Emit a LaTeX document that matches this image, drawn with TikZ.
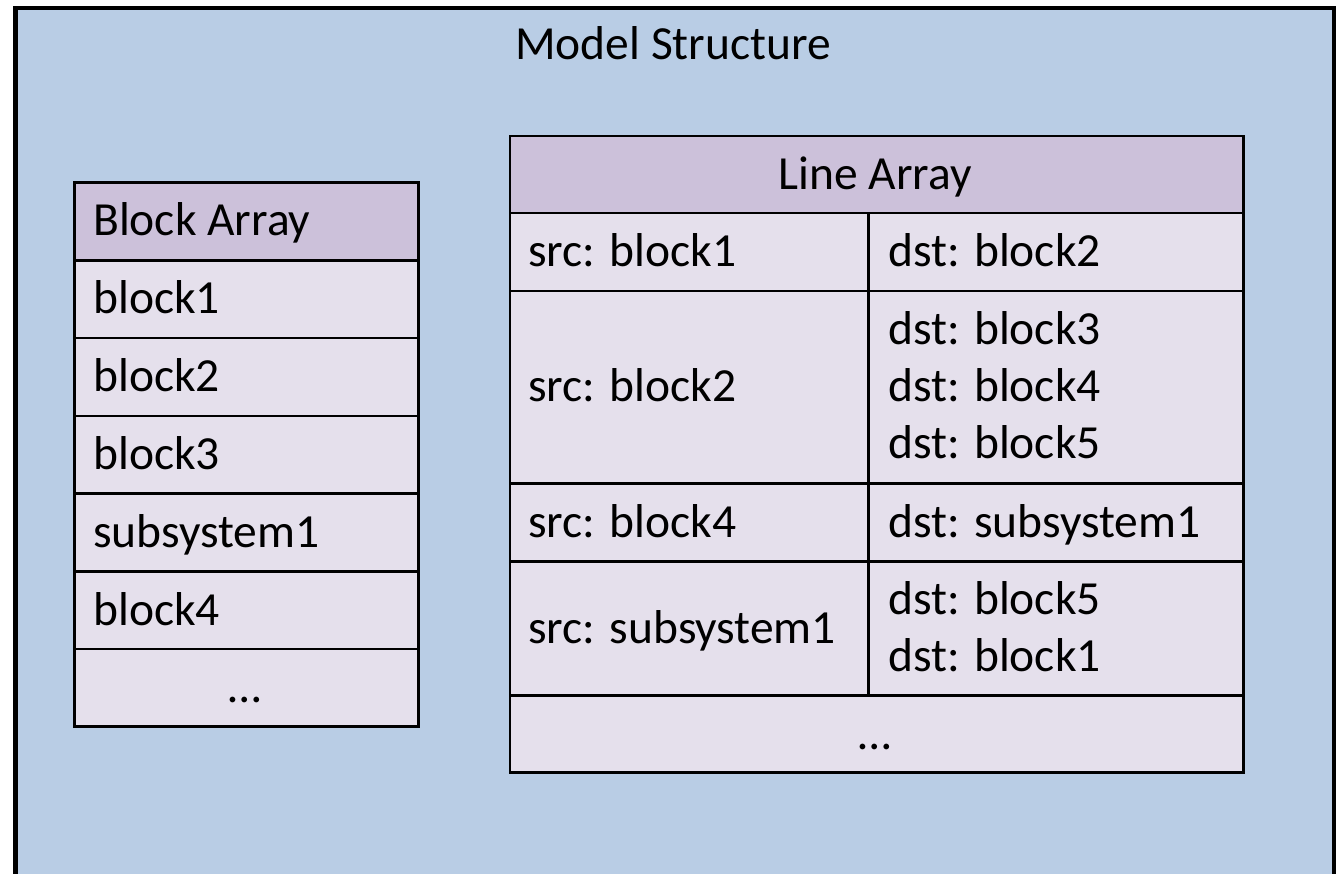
\documentclass[tikz,border=0pt]{standalone}
\usepackage{fontspec}
\setmainfont{Carlito}
\definecolor{outerblue}{HTML}{B9CDE5}
\definecolor{hdrpurple}{HTML}{CCC1DA}
\definecolor{cellpurple}{HTML}{E5E0EC}
\tikzset{
  frame/.style={draw=black, line width=4.5pt, fill=outerblue, inner sep=0pt, anchor=north west},
  hdr/.style={draw=black, line width=2.5pt, fill=hdrpurple, inner sep=0pt, anchor=north west},
  cell/.style={draw=black, line width=2.5pt, fill=cellpurple, inner sep=0pt, anchor=north west},
  lbl/.style={anchor=base west, inner sep=0pt, font=\fontsize{47.5}{57}\selectfont},
  clbl/.style={anchor=base, inner sep=0pt, font=\fontsize{47.5}{57}\selectfont}
}
\begin{document}
\begin{tikzpicture}[x=1pt,y=-1pt]
\clip (0,0) rectangle (1339,874);
\useasboundingbox (0,0) rectangle (1339,874);

% outer container
\node[frame, minimum width=1318.5pt, minimum height=872pt] (frame) at (13,6) {};
\node[clbl] (title) at (673,59.5) {Model Structure};

% block array (left table)
\node[hdr,  minimum width=344pt, minimum height=77.7pt] (bh) at (73,181.5) {};
\node[cell, minimum width=344pt, minimum height=77.7pt] (b1) at (73,259.2) {};
\node[cell, minimum width=344pt, minimum height=77.7pt] (b2) at (73,336.9) {};
\node[cell, minimum width=344pt, minimum height=77.7pt] (b3) at (73,414.6) {};
\node[cell, minimum width=344pt, minimum height=77.7pt] (b4) at (73,492.3) {};
\node[cell, minimum width=344pt, minimum height=77.7pt] (b5) at (73,570.0) {};
\node[cell, minimum width=344pt, minimum height=77.7pt] (b6) at (73,647.7) {};
\node[lbl] (bht) at (93,236) {Block Array};
\node[lbl] (b1t) at (93,314) {block1};
\node[lbl] (b2t) at (93,391.5) {block2};
\node[lbl] (b3t) at (93,469) {block3};
\node[lbl] (b4t) at (93,547) {subsystem1};
\node[lbl] (b5t) at (93,625) {block4};
\node[clbl] (b6t) at (245,702) {…};

% line array (right table)
\node[hdr,  minimum width=733.5pt, minimum height=77pt] (lh) at (508.5,135) {};
\node[cell, minimum width=358.5pt, minimum height=78pt]  (s1) at (508.5,212) {};
\node[cell, minimum width=375pt,   minimum height=78pt]  (d1) at (867,212) {};
\node[cell, minimum width=358.5pt, minimum height=192pt] (s2) at (508.5,290) {};
\node[cell, minimum width=375pt,   minimum height=192pt] (d2) at (867,290) {};
\node[cell, minimum width=358.5pt, minimum height=78pt]  (s3) at (508.5,482) {};
\node[cell, minimum width=375pt,   minimum height=78pt]  (d3) at (867,482) {};
\node[cell, minimum width=358.5pt, minimum height=134pt] (s4) at (508.5,560) {};
\node[cell, minimum width=375pt,   minimum height=134pt] (d4) at (867,560) {};
\node[cell, minimum width=733.5pt, minimum height=77pt]  (l5) at (508.5,694) {};

\node[clbl] (lht) at (875,189.5) {Line Array};
\node[lbl] (s1t) at (528,267) {src: block1};
\node[lbl] (d1t) at (888,267) {dst: block2};
\node[lbl] (s2t) at (528,402) {src: block2};
\node[lbl] (d2a) at (888,345) {dst: block3};
\node[lbl] (d2b) at (888,402) {dst: block4};
\node[lbl] (d2c) at (888,459) {dst: block5};
\node[lbl] (s3t) at (528,537) {src: block4};
\node[lbl] (d3t) at (888,537) {dst: subsystem1};
\node[lbl] (s4t) at (528,643) {src: subsystem1};
\node[lbl] (d4a) at (888,614.5) {dst: block5};
\node[lbl] (d4b) at (888,671.5) {dst: block1};
\node[clbl] (l5t) at (875,749) {…};
\end{tikzpicture}
\end{document}
